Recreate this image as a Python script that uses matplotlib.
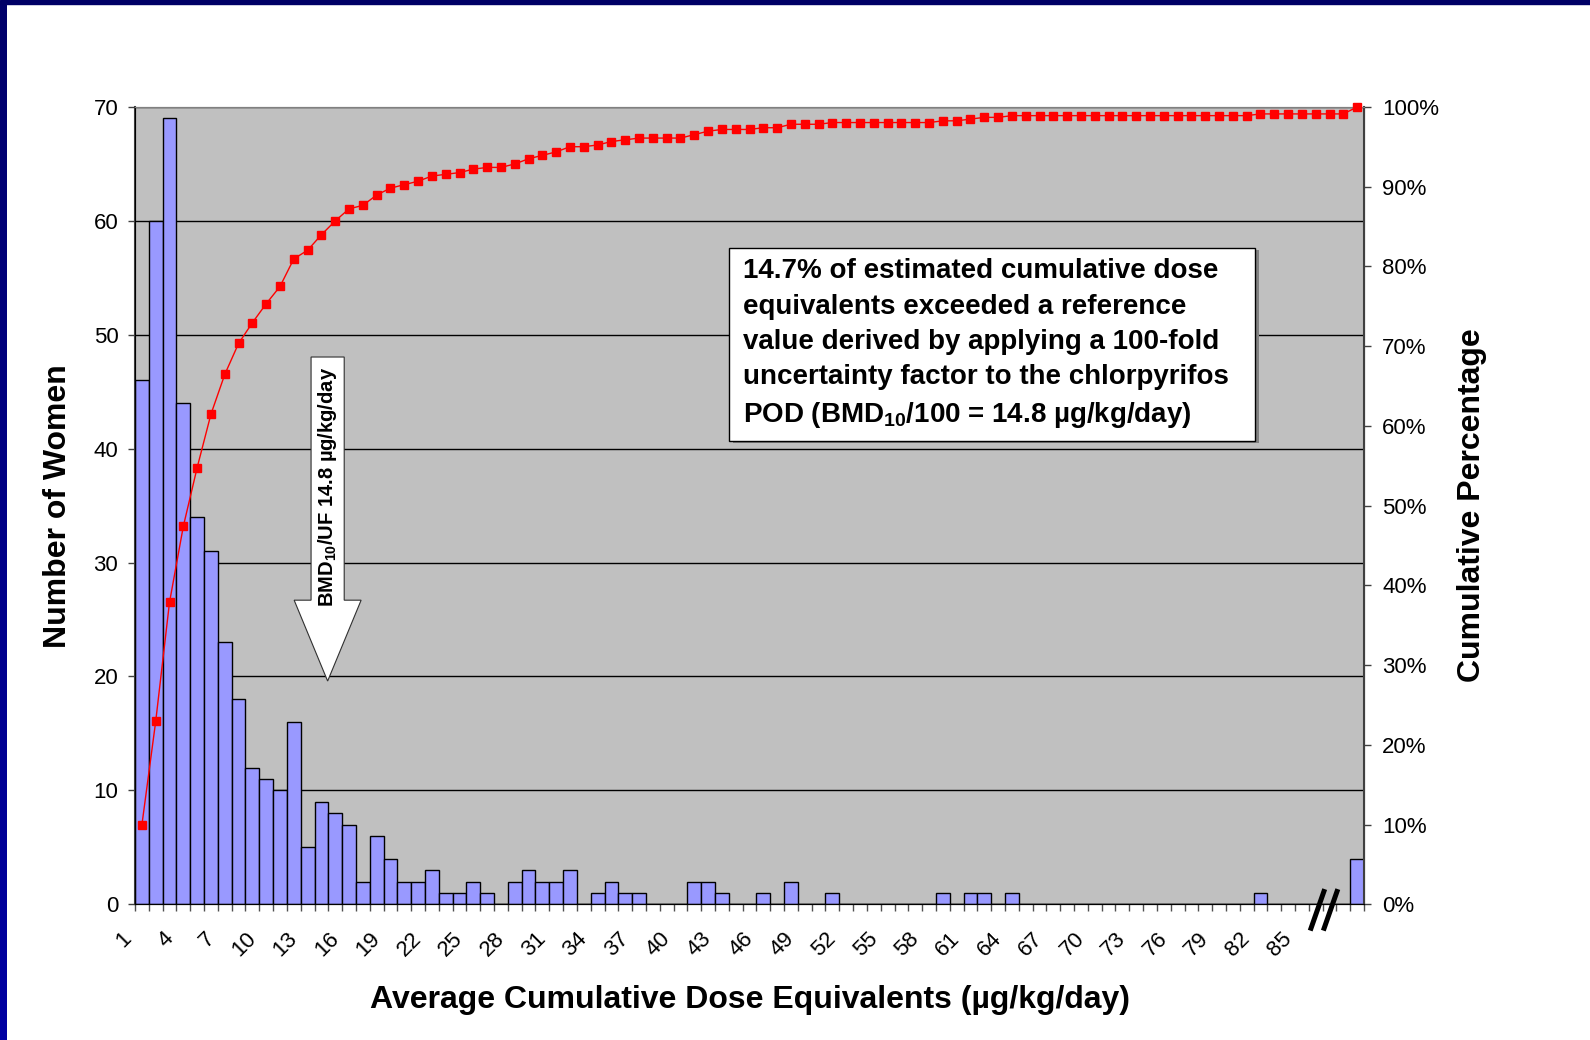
import matplotlib.pyplot as plt
import matplotlib.transforms as mtransforms
import numpy as np
from matplotlib.patches import Rectangle, FancyArrow
from matplotlib.colors import LinearSegmentedColormap
from matplotlib.ticker import FuncFormatter, MultipleLocator

plt.rcParams['font.family'] = ['Liberation Sans', 'DejaVu Sans']
plt.rcParams['mathtext.default'] = 'regular'

# dose bins (µg/kg/day); the last bin sits after the axis break
bins = np.arange(1, 90)
counts = [46, 60, 69, 44, 34, 31, 23, 18, 12, 11,
          10, 16, 5, 9, 8, 7, 2, 6, 4, 2,
          2, 3, 1, 1, 2, 1, 0, 2, 3, 2,
          2, 3, 0, 1, 2, 1, 1, 0, 0, 0,
          2, 2, 1, 0, 0, 1, 0, 2, 0, 0,
          1, 0, 0, 0, 0, 0, 0, 0, 1, 0,
          1, 1, 0, 1, 0, 0, 0, 0, 0, 0,
          0, 0, 0, 0, 0, 0, 0, 0, 0, 0,
          0, 1, 0, 0, 0, 0, 0, 0, 4]
tick_bins = [b for b in bins if (b - 1) % 3 == 0 and b <= 85]
y_ticks = [0, 10, 20, 30, 40, 50, 60, 70]
pct_ticks = np.arange(0, 1.01, 0.1)

cum = np.cumsum(counts) / np.sum(counts)

fig = plt.figure(figsize=(15.9, 10.4), dpi=100)

# dark blue slide frame (top and left)
fig.patches.append(Rectangle((0, 1 - 4 / 1040), 1, 4 / 1040, transform=fig.transFigure,
                             color='#000066', zorder=0))
edge = fig.add_axes([0, 0, 7 / 1590, 1 - 4 / 1040])
edge.imshow(np.linspace(0, 1, 100).reshape(-1, 1), aspect='auto',
            cmap=LinearSegmentedColormap.from_list('frame', ['#00006A', '#0000A2']))
edge.axis('off')

ax = fig.add_axes([0.0849, 0.1305, 0.7730, 0.7666])
ax.set_facecolor('#C0C0C0')
ax.bar(bins, counts, width=1.0, color='#9999FF', edgecolor='black', linewidth=1.0, zorder=2)

ax.set_xlim(0.5, 89.5)
ax.set_ylim(0, 70)
ax.set_yticks(y_ticks)
ax.yaxis.grid(True, color='black', linewidth=1.0)
ax.set_axisbelow(True)
ax.tick_params(axis='y', direction='out', length=5, width=1, pad=7, labelsize=16, color='#404040')

ax.set_xticks(tick_bins)
ax.set_xticklabels([str(b) for b in tick_bins], rotation=45, ha='right', va='top')
ax.xaxis.set_minor_locator(MultipleLocator(1, offset=0.5))
ax.tick_params(axis='x', which='major', length=0, pad=17, labelsize=16)
ax.tick_params(axis='x', which='minor', direction='out', length=5, width=1, color='#505050')
shift = mtransforms.ScaledTranslation(-6 / 100, 0, fig.dpi_scale_trans)
for lab in ax.get_xticklabels():
    lab.set_transform(lab.get_transform() + shift)

ax.spines['top'].set_color('#808080')
ax.spines['left'].set_color('#404040')
ax.spines['left'].set_linewidth(1.5)
ax.spines['bottom'].set_color('black')

# axis break marks before the last bin
brk = mtransforms.blended_transform_factory(ax.transData, ax.transAxes)
for x0 in (85.6, 86.55):
    ax.plot([x0, x0 + 1.05], [-0.033, 0.019], color='black', linewidth=3.6,
            transform=brk, clip_on=False, solid_capstyle='butt', zorder=6)

# white arrow marking BMD10/UF
ax.add_patch(FancyArrow(14.45, 48.05, 0, -28.45, width=2.4, head_width=4.85,
                        head_length=7.1, length_includes_head=True,
                        facecolor='white', edgecolor='#303030', linewidth=0.8, zorder=5))
ax.text(14.45, 36.6, r'BMD$_{10}$/UF 14.8 µg/kg/day', rotation=90, ha='center', va='center',
        fontsize=14.5, fontweight='bold', zorder=6)

ax2 = ax.twinx()
ax2.plot(bins, cum, color='#FF0000', linewidth=1.0, marker='s', markersize=5.5,
         markerfacecolor='#FF0000', markeredgecolor='#FF0000', clip_on=False, zorder=3)
ax2.set_ylim(0, 1)
ax2.set_yticks(pct_ticks)
ax2.yaxis.set_major_formatter(FuncFormatter(lambda v, p: f'{v:.0%}'))
ax2.tick_params(axis='y', direction='out', length=5, width=1, pad=8, labelsize=16, color='#404040')
ax2.spines['right'].set_color('#404040')
ax2.spines['right'].set_linewidth(1.5)
ax2.spines['top'].set_color('#808080')

# note box
ax2.add_patch(Rectangle((0.4863, 0.5781), 0.4280, 0.2421, transform=ax2.transAxes,
                        facecolor='#808080', edgecolor='none', zorder=4))
ax2.add_patch(Rectangle((0.4833, 0.5811), 0.4280, 0.2421, transform=ax2.transAxes,
                        facecolor='white', edgecolor='black', linewidth=1.0, zorder=5))
note = ('14.7% of estimated cumulative dose\n'
        'equivalents exceeded a reference\n'
        'value derived by applying a 100-fold\n'
        'uncertainty factor to the chlorpyrifos\n'
        r'POD (BMD$_{10}$/100 = 14.8 µg/kg/day)')
ax2.text(0.4947, 0.7025, note, transform=ax2.transAxes, ha='left', va='center',
         fontsize=20, fontweight='bold', linespacing=1.46, zorder=6)

fig.text(58 / 1590, 1 - 506 / 1040, 'Number of Women', rotation=90, ha='center', va='center',
         fontsize=23, fontweight='bold')
fig.text(1472 / 1590, 1 - 505 / 1040, 'Cumulative Percentage', rotation=90, ha='center',
         va='center', fontsize=23, fontweight='bold')
fig.text(749.5 / 1590, 1 - 1000 / 1040, 'Average Cumulative Dose Equivalents (µg/kg/day)',
         ha='center', va='center', fontsize=23, fontweight='bold')

fig.savefig('out.png', dpi=100)
